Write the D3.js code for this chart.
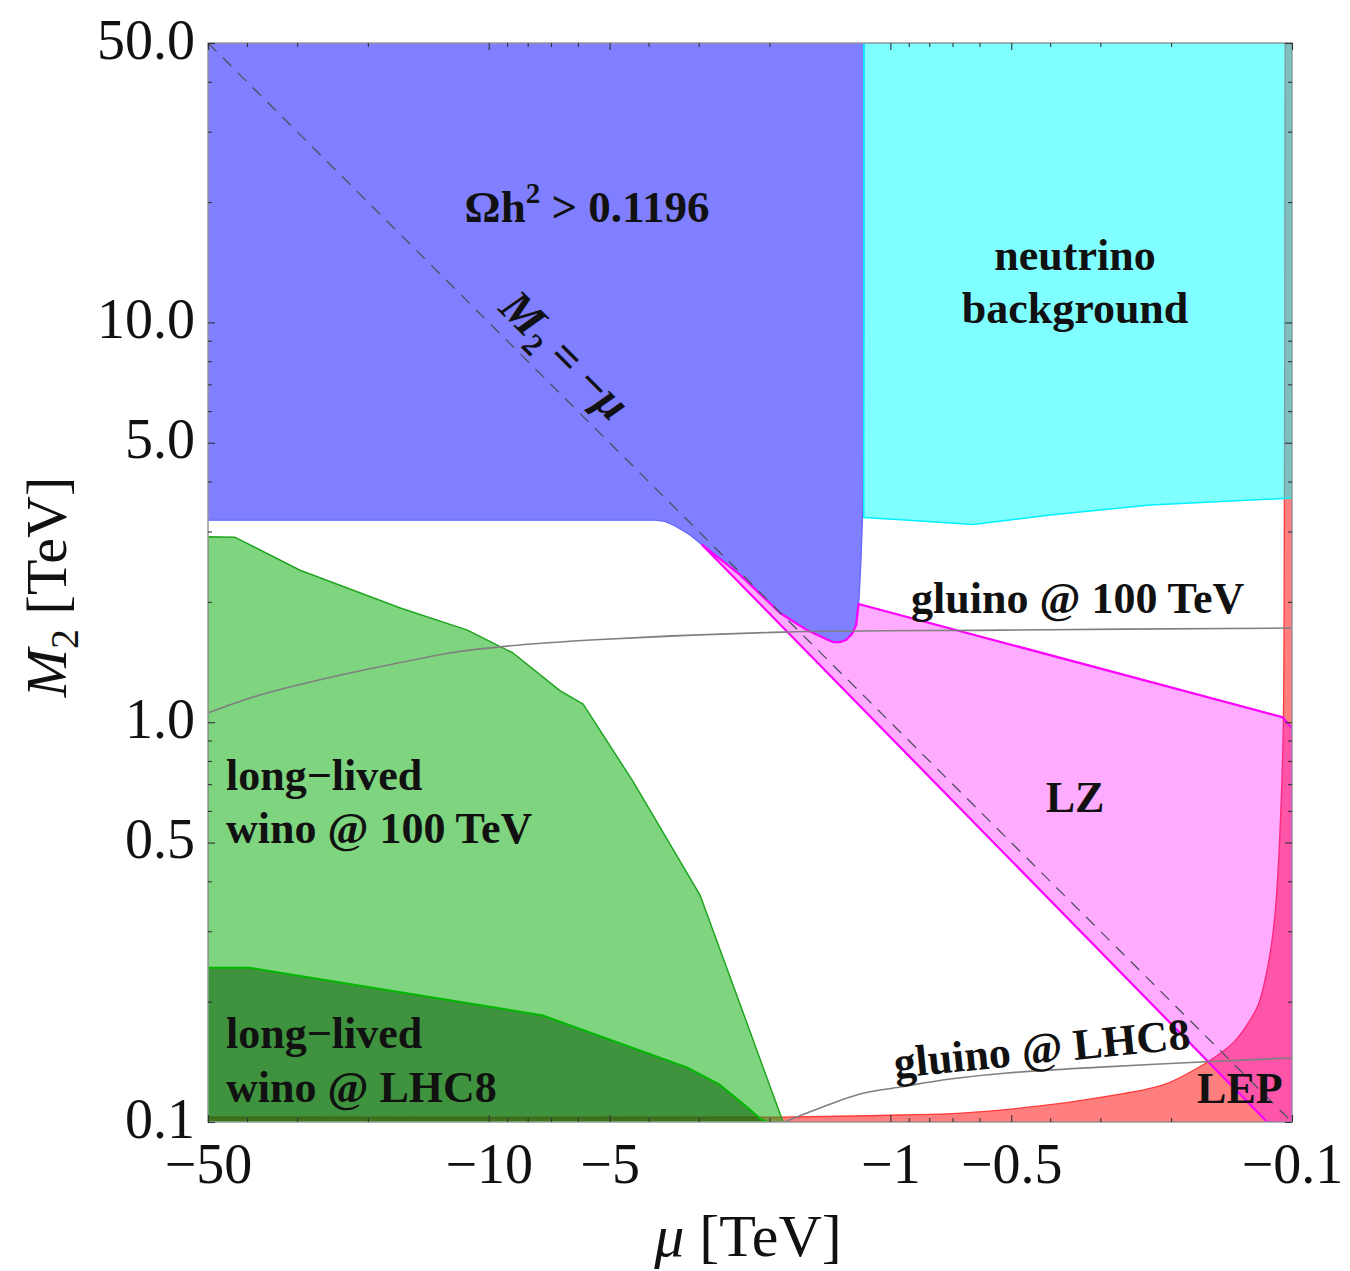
<!DOCTYPE html>
<html>
<head>
<meta charset="utf-8">
<script src="https://cdn.jsdelivr.net/npm/d3@7"></script>
<style>
  body { margin: 0; background: #fff; }
  svg text { font-family: "Liberation Serif", "Times New Roman", serif; }
</style>
</head>
<body>
<svg id="chart" width="1350" height="1271"></svg>
<script>
// Axis ticks: x is -mu [TeV] (shown with a minus sign), y is M2 [TeV]
const xMajor = [50, 10, 5, 1, 0.5, 0.1];
const xMinor = [40, 30, 20, 9, 8, 7, 6, 4, 3, 2, 0.9, 0.8, 0.7, 0.6, 0.4, 0.3, 0.2];
const yMajor = [50, 10, 5, 1, 0.5, 0.1];
const yMinor = [40, 30, 20, 9, 8, 7, 6, 4, 3, 2, 0.9, 0.8, 0.7, 0.6, 0.4, 0.3, 0.2];

// Region boundaries as [ -mu, M2 ] pairs in TeV
const relicExcess = [ // Omega h^2 > 0.1196
  [50, 50], [1.163, 50], [1.163, 11.4], [1.169, 3.6], [1.183, 2.55], [1.197, 2.02],
  [1.217, 1.75], [1.246, 1.662], [1.289, 1.606], [1.334, 1.587], [1.389, 1.587],
  [1.446, 1.615], [1.613, 1.70], [1.882, 1.876], [2.367, 2.335], [2.732, 2.62],
  [2.94, 2.776], [3.153, 2.941], [3.436, 3.096], [3.64, 3.18], [3.86, 3.2], [50, 3.2]
];
const neutrinoFloor = [
  [1.165, 50], [0.1, 50], [0.1, 3.636], [0.2256, 3.494], [0.4, 3.3],
  [0.6224, 3.121], [0.9, 3.2], [1.165, 3.251]
];
const lzReach = [
  [2.94, 2.776], [0.1153, 0.1], [0.1, 0.1], [0.1, 0.967], [0.1058, 1.03],
  [1.2, 1.976], [1.217, 1.75], [1.246, 1.662], [1.289, 1.606], [1.334, 1.587],
  [1.389, 1.587], [1.446, 1.615], [1.613, 1.70], [1.882, 1.876], [2.367, 2.335],
  [2.732, 2.62], [2.94, 2.776]
];
// LEP exclusion edge, from the bottom-left along to the top-right of the frame
const lepEdge = [
  [50, 0.1029], [1.882, 0.1029], [0.946, 0.1041], [0.663, 0.1053],
  [0.424, 0.1097], [0.3075, 0.1148], [0.2094, 0.1238], [0.1684, 0.1381],
  [0.1528, 0.1471], [0.1394, 0.1586], [0.1294, 0.1749], [0.1214, 0.1962],
  [0.116, 0.2332], [0.1121, 0.2853], [0.1095, 0.3592], [0.1071, 0.5376],
  [0.1052, 0.94], [0.1046, 2.02], [0.104, 50]
];
const lepCorners = [[0.1, 50], [0.1, 0.1], [50, 0.1]];
const winoFCC = [ // long-lived wino @ 100 TeV
  [50, 2.91], [42.8, 2.90], [29.5, 2.40], [16.6, 1.93], [11.3, 1.70], [8.70, 1.49],
  [6.65, 1.20], [5.82, 1.11], [4.37, 0.71], [2.98, 0.37], [2.46, 0.219],
  [1.85, 0.1], [50, 0.1]
];
const winoLHC8 = [ // long-lived wino @ LHC8
  [50, 0.243], [39.3, 0.243], [7.37, 0.185], [3.21, 0.137], [2.66, 0.124],
  [2.30, 0.110], [2.11, 0.102], [2.03, 0.1], [50, 0.1]
];
const gluinoFCC = [
  [50, 1.055], [37.1, 1.17], [24.4, 1.30], [16.6, 1.41], [12.5, 1.49], [9.0, 1.55],
  [5.28, 1.61], [1.85, 1.68], [0.533, 1.70], [0.1, 1.72]
];
const gluinoLHC8 = [
  [1.839, 0.1], [1.497, 0.1084], [1.19, 0.1175], [0.946, 0.1223], [0.71, 0.1281],
  [0.512, 0.1326], [0.3075, 0.137], [0.1684, 0.1413], [0.1, 0.1446]
];
const diagonal = [[50, 50], [0.1, 0.1]]; // M2 = -mu

const L = 208, R = 1292, T = 43, B = 1122;
const svg = d3.select("#chart");
const x = d3.scaleLog().domain([50, 0.1]).range([L, R]);
const y = d3.scaleLog().domain([0.1, 50]).range([B, T]);
const line = d3.line().x(d => x(d[0])).y(d => y(d[1]));
const smooth = d3.line().x(d => x(d[0])).y(d => y(d[1])).curve(d3.curveCatmullRom.alpha(0.5));

svg.append("defs").append("clipPath").attr("id", "plotArea")
  .append("rect").attr("x", L).attr("y", T).attr("width", R - L).attr("height", B - T);

const plot = svg.append("g").attr("clip-path", "url(#plotArea)");

function region(d, fill, opacity, stroke, width) {
  plot.append("path")
    .attr("d", d)
    .attr("fill", fill)
    .attr("fill-opacity", opacity)
    .attr("stroke", stroke)
    .attr("stroke-width", width)
    .attr("stroke-linejoin", "round");
}

// smooth LEP edge closed with straight runs along the frame
const lepPath = smooth(lepEdge) + lepCorners.map(p => `L${x(p[0])},${y(p[1])}`).join("") + "Z";
region(lepPath, "#ff0000", 0.5, "#ff3a3a", 1.3);
region(line(winoFCC) + "Z", "#00aa00", 0.5, "#1fa51f", 1.5);
region(line(winoLHC8) + "Z", "#005200", 0.5, "#00b800", 2);
region(line(relicExcess) + "Z", "#0000ff", 0.5, "#6464ff", 1.2);
region(line(neutrinoFloor) + "Z", "#00ffff", 0.5, "#00f0ff", 1.5);
region(line(lzReach) + "Z", "#ff00ff", 0.33, "#ff00ff", 2.2);

[gluinoFCC, gluinoLHC8].forEach(d => {
  plot.append("path").attr("d", smooth(d))
    .attr("fill", "none").attr("stroke", "#808080").attr("stroke-width", 1.6);
});

plot.append("path").attr("d", line(diagonal))
  .attr("fill", "none").attr("stroke", "#505060").attr("stroke-width", 1.3)
  .attr("stroke-dasharray", "12,9");

// Frame
svg.append("rect").attr("x", L).attr("y", T).attr("width", R - L).attr("height", B - T)
  .attr("fill", "none").attr("stroke", "#999").attr("stroke-width", 1.5);

// Axes: ticks point inward on all four sides
function styleAxis(sel) {
  sel.select(".domain").remove();
  sel.selectAll(".tick line").attr("stroke", "#333").attr("stroke-width", 1.1);
  sel.attr("font-family", "Liberation Serif, serif").attr("font-size", 56);
  sel.selectAll("text").attr("fill", "#111");
}
const fmtX = d => "\u2212" + d;
const fmtY = d3.format(".1f");

svg.append("g").attr("transform", `translate(0,${B})`)
  .call(d3.axisBottom(x).tickValues(xMajor).tickSize(-7).tickFormat(fmtX))
  .call(styleAxis)
  .call(s => s.selectAll("text").attr("y", 61).attr("dy", null));
svg.append("g").attr("transform", `translate(0,${B})`)
  .call(d3.axisBottom(x).tickValues(xMinor).tickSize(-4).tickFormat(""))
  .call(styleAxis);
svg.append("g").attr("transform", `translate(0,${T})`)
  .call(d3.axisTop(x).tickValues(xMajor).tickSize(-7).tickFormat(""))
  .call(styleAxis);
svg.append("g").attr("transform", `translate(0,${T})`)
  .call(d3.axisTop(x).tickValues(xMinor).tickSize(-4).tickFormat(""))
  .call(styleAxis);

svg.append("g").attr("transform", `translate(${L},0)`)
  .call(d3.axisLeft(y).tickValues(yMajor).tickSize(-7).tickFormat(fmtY))
  .call(styleAxis)
  .call(s => s.selectAll("text").attr("x", -13).attr("y", 15).attr("dy", null));
svg.append("g").attr("transform", `translate(${L},0)`)
  .call(d3.axisLeft(y).tickValues(yMinor).tickSize(-4).tickFormat(""))
  .call(styleAxis);
svg.append("g").attr("transform", `translate(${R},0)`)
  .call(d3.axisRight(y).tickValues(yMajor).tickSize(-7).tickFormat(""))
  .call(styleAxis);
svg.append("g").attr("transform", `translate(${R},0)`)
  .call(d3.axisRight(y).tickValues(yMinor).tickSize(-4).tickFormat(""))
  .call(styleAxis);

// Axis titles
const xt = svg.append("text").attr("x", 748).attr("y", 1256)
  .attr("text-anchor", "middle").attr("font-size", 60).attr("fill", "#111");
xt.append("tspan").attr("font-style", "italic").text("\u03bc");
xt.append("tspan").text(" [TeV]");

const yt = svg.append("text").attr("transform", "translate(66,587) rotate(-90)")
  .attr("text-anchor", "middle").attr("font-size", 58).attr("fill", "#111");
yt.append("tspan").attr("font-style", "italic").text("M");
yt.append("tspan").attr("font-size", 40).attr("dy", 12).text("2");
yt.append("tspan").attr("dy", -12).text(" [TeV]");

// Region labels
function label(px, py, lines, anchor, size) {
  const t = svg.append("text").attr("font-weight", "bold").attr("font-size", size || 44)
    .attr("fill", "#111").attr("text-anchor", anchor || "start");
  lines.forEach((s, i) => {
    t.append("tspan").attr("x", px).attr("y", py[i]).text(s);
  });
  return t;
}

const om = svg.append("text").attr("x", x(5.69)).attr("y", y(17.8))
  .attr("text-anchor", "middle").attr("font-weight", "bold").attr("font-size", 45).attr("fill", "#111");
om.append("tspan").text("\u03a9h");
om.append("tspan").attr("font-size", 29).attr("dy", -19).text("2");
om.append("tspan").attr("dy", 19).text(" > 0.1196");

label(x(0.347), [y(13.5), y(9.97)], ["neutrino", "background"], "middle");
label(x(0.888), [y(1.876)], ["gluino @ 100 TeV"], "start");
label(x(0.347), [y(0.596)], ["LZ"], "middle");
label(x(45.1), [y(0.677), y(0.499)], ["long\u2212lived", "wino @ 100 TeV"], "start");
label(x(45.1), [y(0.153), y(0.1122)], ["long\u2212lived", "wino @ LHC8"], "start");
label(x(0.1723), [y(0.1116)], ["LEP"], "start");

svg.append("text")
  .attr("transform", `translate(${x(0.973)},${y(0.1289)}) rotate(-5.7)`)
  .attr("font-weight", "bold").attr("font-size", 44).attr("fill", "#111")
  .text("gluino @ LHC8");

// Label along the M2 = -mu diagonal
const ang = Math.atan2(y(0.1) - y(50), x(0.1) - x(50)) * 180 / Math.PI;
const dl = svg.append("text")
  .attr("transform", `translate(${x(7.3)},${y(7.3)}) rotate(${ang})`)
  .attr("y", -15).attr("text-anchor", "middle")
  .attr("font-weight", "bold").attr("font-size", 47).attr("fill", "#111");
dl.append("tspan").attr("font-style", "italic").text("M");
dl.append("tspan").attr("font-size", 31).attr("dy", 10).text("2");
dl.append("tspan").attr("dy", -10).text(" = \u2212");
dl.append("tspan").attr("font-style", "italic").text("\u03bc");
</script>
</body>
</html>
